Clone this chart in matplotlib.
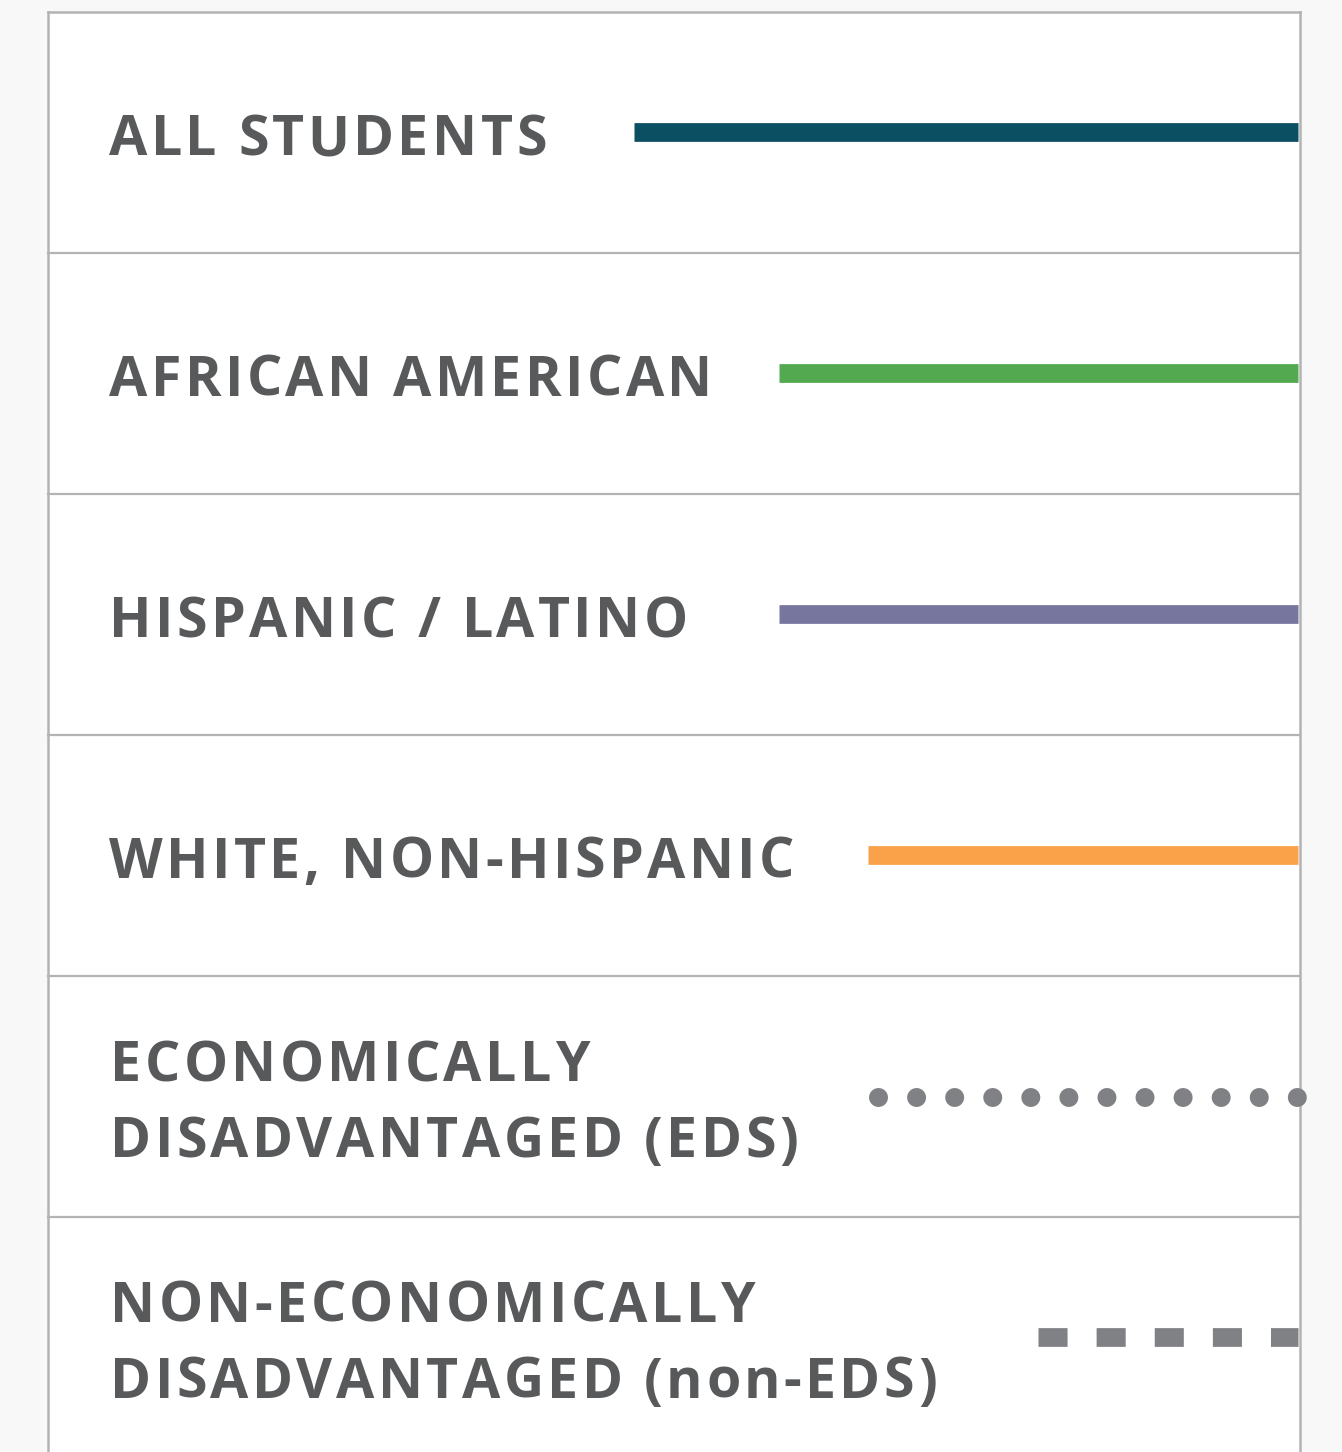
import matplotlib.pyplot as plt
from matplotlib.patches import Rectangle

labels = [
    ["ALL STUDENTS"],
    ["AFRICAN AMERICAN"],
    ["HISPANIC / LATINO"],
    ["WHITE, NON-HISPANIC"],
    ["ECONOMICALLY", "DISADVANTAGED (EDS)"],
    ["NON-ECONOMICALLY", "DISADVANTAGED (non-EDS)"],
]
colors = ["#0b4f63", "#52a94f", "#77769f", "#f9a24a", "#808185", "#808185"]
styles = ["solid", "solid", "solid", "solid", "dots", "dashes"]
line_start = [634, 779, 779, 868, 878, 1038]

W, H = 1342, 1452
fig = plt.figure(figsize=(W / 100, H / 100), dpi=100)
fig.patch.set_facecolor("#f8f8f8")
ax = fig.add_axes([0, 0, 1, 1])
ax.set_xlim(0, W)
ax.set_ylim(H, 0)
ax.axis("off")

box_l, box_r, box_t = 48, 1300, 12
row_h = 241
ax.add_patch(Rectangle((box_l, box_t), box_r - box_l, H, facecolor="white",
                       edgecolor="none", zorder=0))

renderer = fig.canvas.get_renderer()
txt_kw = dict(fontsize=40, fontweight="bold", family=["Open Sans", "DejaVu Sans"],
              color="#58595b", va="center", ha="left")


def tracked(x, y, s, track=3.4):
    # matplotlib has no letter-spacing, so place each character
    for ch in s:
        t = ax.text(x, y, ch, **txt_kw)
        w = t.get_window_extent(renderer).width
        x += w + track


line_end = 1298
for i, (lab, col, sty, x0) in enumerate(zip(labels, colors, styles, line_start)):
    yc = box_t + row_h * i + row_h / 2
    if len(lab) == 1:
        tracked(109, yc + 8, lab[0])
    else:
        tracked(110, yc - 30, lab[0])
        tracked(110, yc + 46, lab[1])
    if sty == "solid":
        ax.plot([x0, line_end], [yc - 1, yc - 1], color=col, lw=13.5,
                solid_capstyle="butt", zorder=2)
    elif sty == "dots":
        ax.plot([x0, line_end + 1], [yc, yc], color=col, lw=13.7,
                linestyle=(0, (0.001, 2.0)), dash_capstyle="round", zorder=4)
    else:
        ax.plot([x0, line_end], [yc - 1, yc - 1], color=col, lw=13.5,
                linestyle=(0, (1.55, 1.55)), dash_capstyle="butt", zorder=2)

# grid of the legend box
border = "#b3b3b5"
for i in range(1, len(labels)):
    y = box_t + row_h * i
    ax.plot([box_l, box_r], [y, y], color=border, lw=1.6, zorder=3)
ax.plot([box_l, box_r], [box_t, box_t], color=border, lw=1.8, zorder=3)
ax.plot([box_l, box_l], [box_t, H], color=border, lw=1.8, zorder=3)
ax.plot([box_r, box_r], [box_t, H], color=border, lw=1.8, zorder=3)

fig.savefig("out.png", dpi=100, facecolor=fig.get_facecolor())
